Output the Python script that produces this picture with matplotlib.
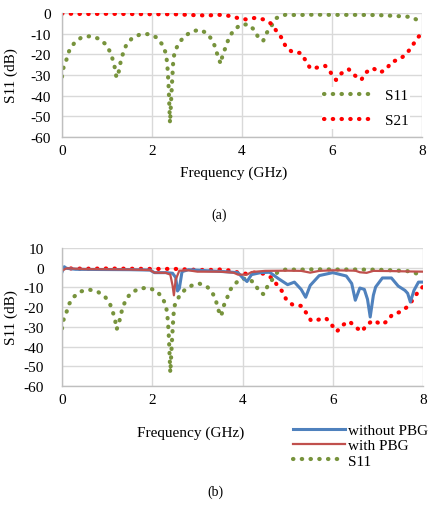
import matplotlib.pyplot as plt
from matplotlib.lines import Line2D

plt.rcParams.update({
    "font.family": ["Liberation Serif", "DejaVu Serif"],
    "font.size": 11,
    "axes.unicode_minus": False,
})

# S11 (both panels)
s11_f = [0, 0.03, 0.10, 0.16, 0.27, 0.42, 0.62, 0.80, 0.96, 1.07, 1.13, 1.18, 1.21,
         1.26, 1.30, 1.35, 1.42, 1.54, 1.72, 1.91, 2.09, 2.22, 2.30, 2.33, 2.35, 2.37,
         2.40, 2.43, 2.45, 2.47, 2.50, 2.59, 2.71, 2.87, 3.05, 3.22, 3.35, 3.42, 3.47,
         3.53, 3.57, 3.65, 3.71, 3.81, 3.96, 4.14, 4.28, 4.37, 4.47, 4.55, 4.77, 4.97,
         5.2, 5.6, 6.0, 6.5, 7.0, 7.3, 7.55, 7.75, 7.92, 8.0]
s11_db = [-30.8, -26.7, -22.5, -18.3, -14.6, -12.0, -11.2, -12.3, -14.9, -18.8, -22.7,
          -27.0, -31.3, -28.5, -24.0, -20.0, -15.9, -12.6, -10.5, -10.2, -11.7, -15.0,
          -19.0, -23.0, -28.0, -36.0, -53.3, -40.0, -32.0, -24.0, -19.0, -14.8, -11.5,
          -9.1, -8.1, -9.7, -13.5, -17.5, -21.7, -24.6, -20.0, -16.0, -11.8, -8.6, -5.7,
          -5.5, -8.3, -12.2, -13.5, -9.6, -2.4, -0.8, -1.0, -0.8, -0.9, -0.9, -1.0, -1.3,
          -1.6, -1.9, -3.6, -4.5]

# S21 (both panels)
s21_f = [0, 0.5, 1.0, 1.5, 2.0, 2.5, 2.9, 3.2, 3.5, 3.72, 3.9, 4.09, 4.28, 4.48, 4.66,
         4.77, 4.89, 4.97, 5.11, 5.31, 5.42, 5.52, 5.67, 5.85, 5.97, 6.09, 6.21, 6.37,
         6.5, 6.65, 6.75, 6.91, 7.07, 7.21, 7.32, 7.5, 7.65, 7.77, 7.88, 8.0]
s21_db = [-0.3, -0.5, -0.4, -0.5, -0.6, -0.6, -1.0, -1.2, -0.9, -1.4, -2.4, -3.1, -2.4,
          -3.1, -5.3, -8.9, -12.3, -16.2, -18.8, -19.4, -23.2, -26.9, -26.4, -25.6,
          -28.8, -32.4, -29.2, -27.2, -30.1, -32.4, -28.8, -26.7, -28.8, -27.2, -23.7,
          -22.4, -19.9, -16.4, -12.6, -9.6]

# without PBG
wo_f = [0, 0.05, 0.1, 0.3, 0.8, 1.5, 1.95, 2.05, 2.3, 2.45, 2.52, 2.56, 2.6, 2.66, 2.8,
        3.2, 3.6, 3.9, 4.0, 4.1, 4.2, 4.4, 4.6, 4.8, 5.0, 5.15, 5.3, 5.4, 5.5, 5.7, 6.0,
        6.3, 6.42, 6.5, 6.6, 6.7, 6.77, 6.83, 6.9, 6.95, 7.1, 7.3, 7.45, 7.6, 7.66,
        7.72, 7.8, 7.9, 8.0]
wo_db = [-2.2, 0.5, -0.3, -0.8, -0.9, -1.0, -1.2, -2.5, -2.5, -2.8, -5.0, -11.8, -10.5,
         -2.0, -1.0, -1.5, -2.0, -2.5, -5.0, -7.0, -3.5, -2.5, -2.3, -5.6, -8.6, -7.3,
         -11.0, -15.0, -9.0, -4.0, -2.5, -4.2, -8.0, -16.5, -10.3, -11.0, -16.0, -25.0,
         -14.0, -9.8, -5.2, -5.2, -9.3, -11.5, -13.0, -17.4, -11.5, -7.3, -7.3]

# with PBG
w_f = [0, 0.1, 0.5, 1.0, 1.5, 1.95, 2.05, 2.3, 2.4, 2.45, 2.48, 2.52, 2.6, 2.8, 3.0,
       3.5, 3.8, 3.9, 4.1, 4.2, 4.5, 5.0, 5.3, 5.5, 5.7, 6.0, 6.5, 6.6, 6.75, 6.9, 7.3,
       7.7, 8.0]
w_db = [-1.5, -0.3, -0.7, -0.8, -0.9, -1.2, -2.5, -2.6, -3.5, -9.0, -14.0, -6.0, -1.5,
        -1.3, -2.0, -2.0, -2.5, -3.5, -3.5, -2.2, -1.6, -1.5, -1.6, -2.5, -1.6, -1.3,
        -1.5, -2.3, -2.6, -1.6, -1.7, -1.9, -2.0]

x_ticks = [0, 2, 4, 6, 8]

green = "#77933c"
red = "#ff0000"
blue = "#4f81bd"
brown = "#c0504d"
grid_c = "#d9d9d9"

dot = dict(linestyle=(0, (0.1, 2.0)), dash_capstyle="round", lw=3.0)


def style(ax, ymin, ymax, ypad):
    ax.set_xlim(0, 8)
    ax.set_ylim(ymin, ymax)
    ax.set_xticks(x_ticks)
    ax.set_yticks(range(ymax, ymin - 1, -10))
    ax.grid(color=grid_c, lw=1)
    ax.set_axisbelow(True)
    ax.tick_params(axis="x", length=0, pad=5)
    ax.tick_params(axis="y", length=0, pad=ypad)
    for s in ["top", "right"]:
        ax.spines[s].set_visible(False)
    for s in ["left", "bottom"]:
        ax.spines[s].set_color("#bfbfbf")
        ax.spines[s].set_linewidth(1)
    ax.set_ylabel("S11 (dB)")
    ax.yaxis.set_label_coords(-44 / 360, 0.5)


fig = plt.figure(figsize=(4.3, 5.1), dpi=100)

# (a)
ax1 = fig.add_axes([62 / 430, 1 - 138 / 510, 360 / 430, 124 / 510])
ax1.plot(s11_f, s11_db, color=green, **dot)
ax1.plot(s21_f, s21_db, color=red, **dot)
style(ax1, -60, 0, 8)
fig.text(234 / 430, 1 - 173 / 510, "Frequency (GHz)", ha="center", va="center")
h1 = [Line2D([], [], color=green, **dot), Line2D([], [], color=red, **dot)]
fig.legend(h1, ["S11", "S21"], loc="center left",
           bbox_to_anchor=(322 / 430, 1 - 109 / 510), frameon=True,
           facecolor="white", edgecolor="none", framealpha=1,
           borderpad=0.1, borderaxespad=0, handlelength=3.4,
           handletextpad=0.6, labelspacing=0.75)
fig.text(219 / 430, 1 - 215 / 510, "(a)", ha="center", va="center", fontsize=10)

# (b)
ax2 = fig.add_axes([62 / 430, 1 - 387 / 510, 361 / 430, 138 / 510])
ax2.plot(s21_f, s21_db, color=red, **dot)
ax2.plot(s11_f, s11_db, color=green, **dot)
ax2.plot(wo_f, wo_db, color=blue, lw=2.2)
ax2.plot(w_f, w_db, color=brown, lw=1.6)
style(ax2, -60, 10, 13)
fig.text(191 / 430, 1 - 433 / 510, "Frequency (GHz)", ha="center", va="center")
h2 = [Line2D([], [], color=blue, lw=2.2), Line2D([], [], color=brown, lw=1.6),
      Line2D([], [], color=green, **dot)]
fig.legend(h2, ["without PBG", "with PBG", "S11"], loc="center left",
           bbox_to_anchor=(293 / 430, 1 - 446.5 / 510), frameon=False,
           borderpad=0, borderaxespad=0, handlelength=3.4, handletextpad=0.2,
           labelspacing=0.1)
fig.text(215 / 430, 1 - 492 / 510, "(b)", ha="center", va="center", fontsize=10)

fig.savefig("out.png", dpi=100)
